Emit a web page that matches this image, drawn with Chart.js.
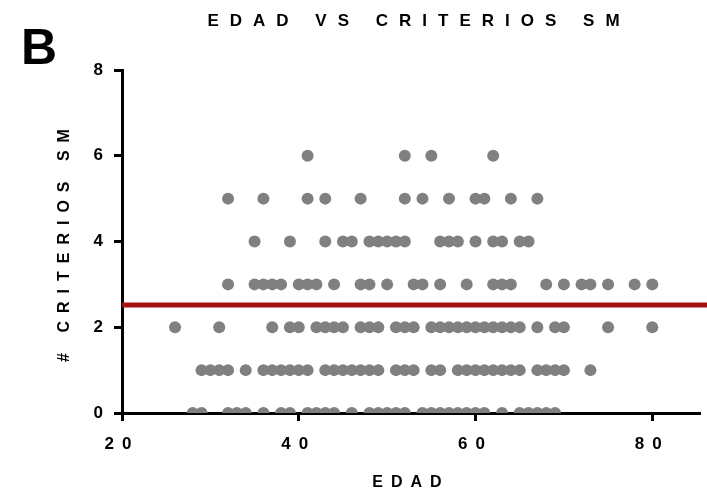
<!DOCTYPE html>
<html>
<head>
<meta charset="utf-8">
<script src="https://cdn.jsdelivr.net/npm/chart.js@4.4.0/dist/chart.umd.min.js"></script>
<style>
  body { margin: 0; background: #fff; }
  #wrap { width: 707px; height: 496px; position: relative; }
</style>
</head>
<body>
<div id="wrap"><canvas id="edadChart"></canvas></div>
<script>
// edad (x) for every patient, grouped by number of criterios SM (y)
const edad0 = [28, 29, 32, 33, 34, 36, 38, 39, 41, 42, 43, 44, 46, 48, 49, 50, 51, 52, 54, 55, 56, 57, 58, 59, 60, 61, 63, 65, 66, 67, 68, 69];
const edad1 = [29, 30, 31, 32, 34, 36, 37, 38, 39, 40, 41, 43, 44, 45, 46, 47, 48, 49, 51, 52, 53, 55, 56, 58, 59, 60, 61, 62, 63, 64, 65, 67, 68, 69, 70, 73];
const edad2 = [26, 31, 37, 39, 40, 42, 43, 44, 45, 47, 48, 49, 51, 52, 53, 55, 56, 57, 58, 59, 60, 61, 62, 63, 64, 65, 67, 69, 70, 75, 80];
const edad3 = [32, 35, 36, 37, 38, 40, 41, 42, 44, 47, 48, 50, 53, 54, 56, 59, 62, 63, 64, 68, 70, 72, 73, 75, 78, 80];
const edad4 = [35, 39, 43, 45, 46, 48, 49, 50, 51, 52, 56, 57, 58, 60, 62, 63, 65, 66];
const edad5 = [32, 36, 41, 43, 47, 52, 54, 57, 60, 61, 64, 67];
const edad6 = [41, 52, 55, 62];
const criteriosGroups = [edad0, edad1, edad2, edad3, edad4, edad5, edad6];

const corte = 2.52;            // red reference line
const xTicks = [20, 40, 60, 80];
const yTicks = [0, 2, 4, 6, 8];

const puntos = [];
criteriosGroups.forEach(function (edades, n) {
  edades.forEach(function (e) { puntos.push({ x: e, y: n }); });
});

const FONT = 'Liberation Sans, Arial, sans-serif';

// spaced-out bold lettering like the original figure
const spacing = {
  id: 'spacing',
  beforeDraw(chart) { chart.ctx.letterSpacing = '8px'; },
  afterDraw(chart) {
    const c = chart.ctx;
    c.save();
    c.fillStyle = '#000';
    c.textBaseline = 'middle';
    c.textAlign = 'center';
    c.letterSpacing = '11px';
    c.font = 'bold 17px ' + FONT;
    c.fillText('EDAD VS CRITERIOS SM', 419, 21);
    c.letterSpacing = '0px';
    c.textAlign = 'left';
    c.font = 'bold 50px ' + FONT;
    c.fillText('B', 21, 50);
    c.restore();
  }
};

const ctx = document.getElementById('edadChart').getContext('2d');

new Chart(ctx, {
  data: {
    datasets: [
      {
        type: 'scatter',
        data: puntos,
        pointRadius: 6,
        pointHoverRadius: 6,
        pointBackgroundColor: '#808080',
        pointBorderWidth: 0,
        order: 2
      },
      {
        type: 'line',
        data: [{ x: 20, y: corte }, { x: 86.3, y: corte }],
        borderColor: '#a31212',
        borderWidth: 5,
        pointRadius: 0,
        clip: false,
        order: 1
      }
    ]
  },
  options: {
    responsive: true,
    maintainAspectRatio: false,
    animation: false,
    layout: { padding: { top: 70, right: 7, bottom: 0, left: 0 } },
    plugins: {
      legend: { display: false },
      tooltip: { enabled: false },
      title: { display: false }
    },
    scales: {
      x: {
        type: 'linear',
        min: 20,
        max: 85.4,
        afterFit: function (s) { s.height = 83; },
        afterBuildTicks: function (s) { s.ticks = xTicks.map(function (v) { return { value: v }; }); },
        grid: { drawOnChartArea: false, drawTicks: true, tickLength: 8, tickWidth: 3, tickColor: '#000' },
        border: { display: true, width: 3, color: '#000' },
        ticks: { color: '#000', padding: 13, font: { family: FONT, size: 17, weight: 'bold' } },
        title: { display: true, text: 'EDAD', color: '#000', padding: { top: 0, bottom: 4 }, font: { family: FONT, size: 16, weight: 'bold' } }
      },
      y: {
        min: 0,
        max: 8,
        afterFit: function (s) { s.width = 122; },
        afterBuildTicks: function (s) { s.ticks = yTicks.map(function (v) { return { value: v }; }); },
        grid: { drawOnChartArea: false, drawTicks: true, tickLength: 8, tickWidth: 3, tickColor: '#000' },
        border: { display: true, width: 3, color: '#000' },
        ticks: { color: '#000', padding: 3, font: { family: FONT, size: 17, weight: 'bold' } },
        title: { display: true, text: '# CRITERIOS SM', color: '#000', padding: { top: 55, bottom: 0 }, font: { family: FONT, size: 16, weight: 'bold' } }
      }
    }
  },
  plugins: [spacing]
});
</script>
</body>
</html>
